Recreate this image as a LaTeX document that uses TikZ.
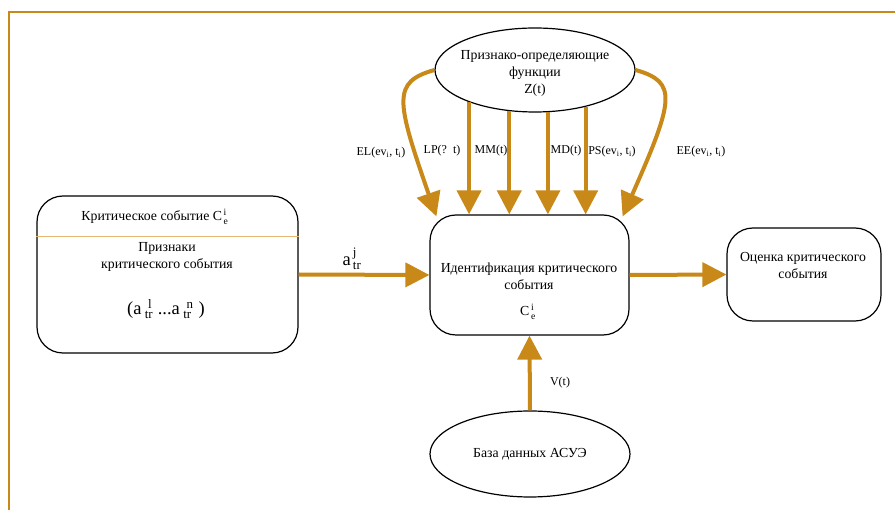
\documentclass[tikz,border=0pt]{standalone}
\usepackage{amsmath}
\usepackage{fontspec}
\setmainfont{Liberation Serif}
\usetikzlibrary{shapes.geometric,arrows.meta}

\definecolor{arrowc}{RGB}{200,137,24}
\definecolor{rulec}{RGB}{228,184,112}

\newcommand{\supsub}[3]{#1$_{\,\text{#2}}^{\,\text{#3}}$}
\newcommand{\widesupsub}[3]{#1$_{\;\text{#2}}^{\;\;\text{#3}}$}

\begin{document}
\begin{tikzpicture}[x=1pt,y=1pt,yscale=-1,xscale=1,
  box/.style={draw, line width=1.2pt, rounded corners=26pt, inner sep=0pt},
  oval/.style={draw, ellipse, line width=1.2pt, inner sep=0pt, minimum width=200pt, minimum height=84pt},
  flow/.style={draw=arrowc, line width=4pt, -{Triangle[length=24pt,width=24pt]}},
  lbl/.style={font=\fontsize{12}{14}\selectfont, inner sep=0.75pt},
  txt/.style={font=\fontsize{13.8}{17}\selectfont, align=center, inner sep=0.75pt},
  big/.style={font=\fontsize{18.5}{20}\selectfont, inner sep=0.75pt}]
\useasboundingbox (0,0) rectangle (895,510);
%Frame
\draw [arrowc, line width=2pt] (8,12) -- (895,12) ;
\draw [arrowc, line width=2pt] (9,12) -- (9,510) ;
%Shape: Ellipse
\node [oval] (fz) at (535,70) {};
\node [oval, minimum height=86pt] (db) at (530,454) {};
%Shape: Rounded Rect
\node [box, minimum width=261pt, minimum height=157pt] (crit) at (167.5,274.5) {};
\node [box, minimum width=199pt, minimum height=120pt] (ident) at (529.5,275) {};
\node [box, minimum width=154pt, minimum height=93pt] (eval) at (804,274.5) {};
%Straight Lines
\draw [rulec, line width=1.5pt] ([yshift=41pt]crit.north west) -- ([yshift=41pt]crit.north east) ;
%Straight Lines
\draw [flow] (fz.206) -- (fz.206 |- ident.north) ;
\draw [flow] (fz.238) -- (fz.238 |- ident.north) ;
\draw [flow] (fz.287) -- (fz.287 |- ident.north) ;
\draw [flow] (fz.324) -- (fz.324 |- ident.north) ;
%Curve Lines
\draw [flow] (fz.west) .. controls (392,82) and (396,100) .. ([xshift=7pt,yshift=2pt]ident.north west) ;
\draw [flow] (fz.east) .. controls (678,82) and (674,100) .. ([xshift=-7pt,yshift=2pt]ident.north east) ;
%Straight Lines
\draw [flow] (crit.east) -- (ident.west) ;
\draw [flow] (ident.east) -- (eval.west) ;
\draw [flow] (db.north) -- (ident.south) ;
% Text Node
\node [txt] (fztext) at (535,73) {Признако-определяющие\\функции\\Z(t)};
\node [txt] (dbtext) at (530,454) {База данных АСУЭ};
\node [txt] (crittitle) at (155,217) {Критическое событие \supsub{C}{e}{i}};
\node [txt] (critsign) at (167,257) {Признаки\\критического события};
\node [big] (critset) at (166,309) {(\widesupsub{a}{tr}{l} ...\widesupsub{a}{tr}{n}\;)};
\node [txt] (identtext) at (529,276) {Идентификация критического\\события};
\node [txt] (identce) at (528,312) {\supsub{C}{e}{i}};
\node [txt] (evaltext) at (803,266) {Оценка критического\\события};
% Labels
\node [big] (latr) at (352,259) {\supsub{a}{tr}{j}};
\node [lbl] (lel) at (381,153) {EL(ev$_{\text{i}}$, t$_{\text{i}}$)};
\node [lbl] (llp) at (442,151) {LP(?\ \ t)};
\node [lbl] (lmm) at (491,151) {MM(t)};
\node [lbl] (lmd) at (566,151) {MD(t)};
\node [lbl] (lps) at (612,152) {PS(ev$_{\text{i}}$, t$_{\text{i}}$)};
\node [lbl] (lee) at (701,152) {EE(ev$_{\text{i}}$, t$_{\text{i}}$)};
\node [lbl] (lv) at (560,383) {V(t)};
\end{tikzpicture}
\end{document}
